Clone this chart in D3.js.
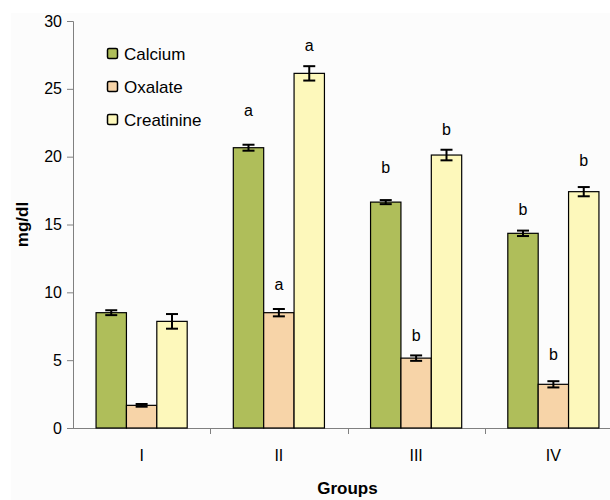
<!DOCTYPE html>
<html>
<head>
<meta charset="utf-8">
<script src="https://cdn.jsdelivr.net/npm/d3@7"></script>
<style>
  html, body { margin: 0; padding: 0; background: #ffffff; }
  svg { display: block; font-family: "Liberation Sans", Arial, sans-serif; }
</style>
</head>
<body>
<svg id="chart" width="610" height="500"></svg>
<script>
// values
const groups = ['I', 'II', 'III', 'IV'];
const seriesNames = ['Calcium', 'Oxalate', 'Creatinine'];
const seriesColors = ['#afbe5a', '#f7d4a8', '#fdf8bb'];

const calcium = [8.5, 20.66, 16.65, 14.35];
const calciumErr = [0.18, 0.22, 0.15, 0.2];
const oxalate = [1.67, 8.5, 5.15, 3.22];
const oxalateErr = [0.1, 0.27, 0.2, 0.23];
const creatinine = [7.86, 26.14, 20.12, 17.42];
const creatinineErr = [0.54, 0.53, 0.39, 0.34];

// significance letters and the level (mg/dl) where each one sits
const calciumSig = ['', 'a', 'b', 'b'];
const calciumSigAt = [null, 23.4, 19.2, 16.1];
const oxalateSig = ['', 'a', 'b', 'b'];
const oxalateSigAt = [null, 10.6, 6.85, 5.45];
const creatinineSig = ['', 'a', 'b', 'b'];
const creatinineSigAt = [null, 28.2, 22.0, 19.7];

const yTicks = [0, 5, 10, 15, 20, 25, 30];

const seriesValues = [calcium, oxalate, creatinine];
const seriesErrors = [calciumErr, oxalateErr, creatinineErr];
const seriesSig = [calciumSig, oxalateSig, creatinineSig];
const seriesSigAt = [calciumSigAt, oxalateSigAt, creatinineSigAt];

const svg = d3.select('#chart');
const plot = { left: 73, right: 622, top: 21, bottom: 428 };
const axisColor = '#808080';

// faint chart-area fill, like the spreadsheet export
svg.append('rect')
  .attr('x', 11).attr('y', 13)
  .attr('width', 610).attr('height', 500)
  .attr('fill', '#fcfcfc');

const x0 = d3.scaleBand().domain(groups).range([plot.left, plot.right]).padding(0);
const bw = x0.bandwidth();
const x1 = d3.scaleBand().domain(seriesNames).range([bw * 0.168, bw * 0.832]).padding(0);
const y = d3.scaleLinear().domain([0, 30]).range([plot.bottom, plot.top]);

const cells = groups.flatMap((g, gi) =>
  seriesNames.map((s, si) => ({
    group: g,
    series: s,
    si,
    value: seriesValues[si][gi],
    err: seriesErrors[si][gi],
    sig: seriesSig[si][gi],
    sigAt: seriesSigAt[si][gi]
  }))
);

// y axis
const yAxis = d3.axisLeft(y).tickValues(yTicks).tickSize(6).tickPadding(5);
const yg = svg.append('g').attr('transform', `translate(${plot.left},0)`).call(yAxis);
yg.selectAll('text').style('font-size', '16px').style('fill', '#000');
yg.selectAll('.domain, .tick line').attr('stroke', axisColor);

// x axis: ticks sit between the groups
const xg = svg.append('g').attr('transform', `translate(0,${plot.bottom})`);
xg.append('line')
  .attr('x1', plot.left).attr('x2', plot.right)
  .attr('y1', 0.5).attr('y2', 0.5)
  .attr('stroke', axisColor);
xg.selectAll('line.tick')
  .data(groups.slice(1))
  .join('line')
  .attr('class', 'tick')
  .attr('x1', (d) => Math.round(x0(d)) + 0.5)
  .attr('x2', (d) => Math.round(x0(d)) + 0.5)
  .attr('y1', 0).attr('y2', 6)
  .attr('stroke', axisColor);
xg.selectAll('text')
  .data(groups)
  .join('text')
  .attr('x', (d) => x0(d) + bw / 2)
  .attr('y', 27)
  .attr('dy', '0.35em')
  .attr('text-anchor', 'middle')
  .style('font-size', '16px')
  .text((d) => d);

const g = svg.append('g');

// bars
g.selectAll('rect.bar')
  .data(cells)
  .join('rect')
  .attr('class', 'bar')
  .attr('x', (d) => x0(d.group) + x1(d.series))
  .attr('y', (d) => y(d.value))
  .attr('width', x1.bandwidth())
  .attr('height', (d) => y(0) - y(d.value))
  .attr('fill', (d) => seriesColors[d.si])
  .attr('stroke', '#000')
  .attr('stroke-width', 1.2);

// error bars
const cx = (d) => x0(d.group) + x1(d.series) + x1.bandwidth() / 2;
const eb = g.selectAll('g.err').data(cells).join('g').attr('class', 'err')
  .attr('stroke', '#000').attr('stroke-width', 2);
eb.append('line')
  .attr('x1', cx).attr('x2', cx)
  .attr('y1', (d) => y(d.value + d.err))
  .attr('y2', (d) => y(d.value - d.err));
eb.append('line')
  .attr('x1', (d) => cx(d) - 6).attr('x2', (d) => cx(d) + 6)
  .attr('y1', (d) => y(d.value + d.err))
  .attr('y2', (d) => y(d.value + d.err));
eb.append('line')
  .attr('x1', (d) => cx(d) - 6).attr('x2', (d) => cx(d) + 6)
  .attr('y1', (d) => y(d.value - d.err))
  .attr('y2', (d) => y(d.value - d.err));

// significance letters
g.selectAll('text.sig')
  .data(cells.filter((d) => d.sig))
  .join('text')
  .attr('class', 'sig')
  .attr('x', cx)
  .attr('y', (d) => y(d.sigAt))
  .attr('dy', '0.35em')
  .attr('text-anchor', 'middle')
  .style('font-size', '16px')
  .text((d) => d.sig);

// axis titles
svg.append('text')
  .attr('transform', `translate(22,${(plot.top + plot.bottom) / 2}) rotate(-90)`)
  .attr('text-anchor', 'middle')
  .attr('dy', '0.35em')
  .style('font-size', '17px')
  .style('font-weight', 'bold')
  .text('mg/dl');

svg.append('text')
  .attr('x', (plot.left + plot.right) / 2)
  .attr('y', 488)
  .attr('dy', '0.35em')
  .attr('text-anchor', 'middle')
  .style('font-size', '17px')
  .style('font-weight', 'bold')
  .text('Groups');

// legend
const legend = svg.append('g').attr('transform', 'translate(107,54)');
const item = legend.selectAll('g')
  .data(seriesNames)
  .join('g')
  .attr('transform', (d, i) => `translate(0,${i * 33})`);
item.append('rect')
  .attr('x', 0.5).attr('y', -5.5)
  .attr('width', 10).attr('height', 10)
  .attr('rx', 1.5)
  .attr('fill', (d, i) => seriesColors[i])
  .attr('stroke', '#000')
  .attr('stroke-width', 1.5);
item.append('text')
  .attr('x', 17)
  .attr('dy', '0.35em')
  .style('font-size', '17px')
  .text((d) => d);
</script>
</body>
</html>
